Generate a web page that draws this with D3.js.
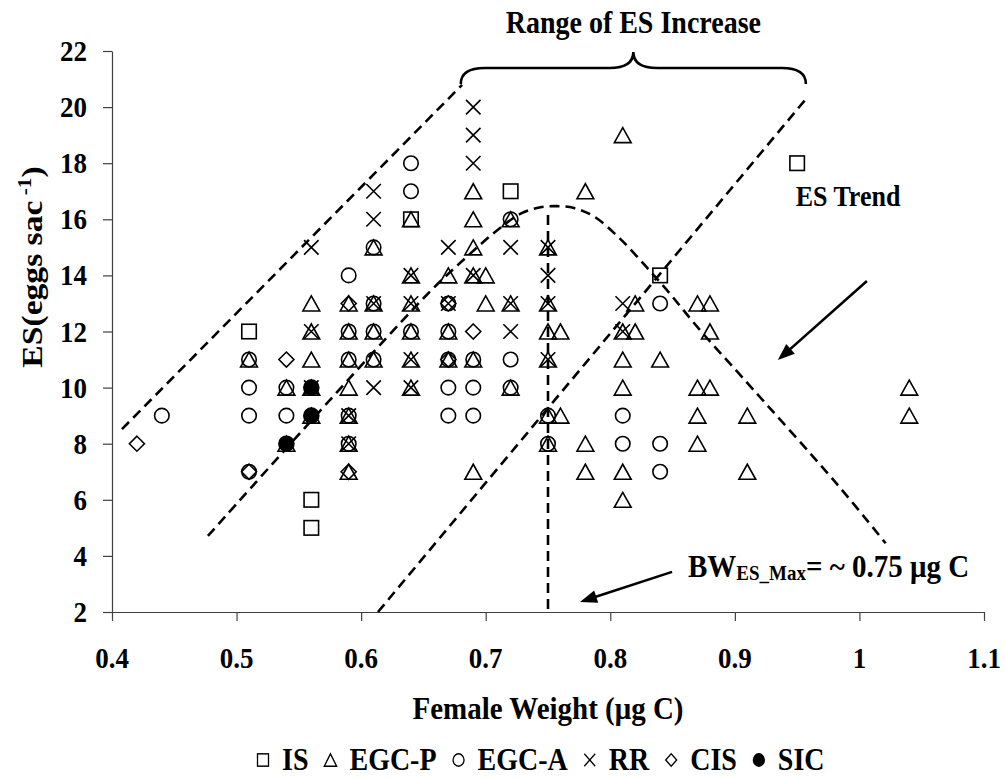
<!DOCTYPE html>
<html><head><meta charset="utf-8">
<script src="https://cdn.jsdelivr.net/npm/d3@7"></script>
<style>
body{margin:0;background:#fff}
svg{display:block}
text{font-family:"Liberation Serif","Times New Roman",serif;font-weight:bold;fill:#000}
</style>
</head><body>
<svg id="chart" width="1005" height="780"></svg>
<script>
// ---------- data ----------
const xTickValues = [0.4,0.5,0.6,0.7,0.8,0.9,1.0,1.1];
const xTickLabels = ["0.4","0.5","0.6","0.7","0.8","0.9","1","1.1"];
const yTickValues = [2,4,6,8,10,12,14,16,18,20,22];
const seriesNames = ["IS","EGC-P","EGC-A","RR","CIS","SIC"];
const seriesShapes = ["square","triangle","circle","cross","diamond","dot"];

const dataIS = [[0.51,12],[0.56,6],[0.56,5],[0.64,16],[0.72,17],[0.84,14],[0.95,18]];
const dataEGCP = [
  [0.51,11],[0.54,10],[0.54,8],
  [0.56,13],[0.56,12],[0.56,11],[0.56,10],[0.56,9],
  [0.59,13],[0.59,12],[0.59,11],[0.59,10],[0.59,9],[0.59,8],[0.59,7],
  [0.61,15],[0.61,13],[0.61,12],[0.61,11],
  [0.64,16],[0.64,14],[0.64,13],[0.64,12],[0.64,11],[0.64,10],
  [0.67,14],[0.67,12],[0.67,11],
  [0.69,17],[0.69,16],[0.69,15],[0.69,14],[0.69,11],[0.69,7],
  [0.70,14],[0.70,13],
  [0.72,16],[0.72,13],[0.72,10],
  [0.75,15],[0.75,13],[0.75,12],[0.75,11],[0.75,9],[0.75,8],
  [0.76,12],[0.76,9],
  [0.78,17],[0.78,8],[0.78,7],
  [0.81,19],[0.81,12],[0.81,11],[0.81,10],[0.81,7],[0.81,6],
  [0.82,13],[0.82,12],[0.84,11],
  [0.87,13],[0.87,10],[0.87,9],[0.87,8],
  [0.88,13],[0.88,12],[0.88,10],
  [0.91,9],[0.91,7],[1.04,10],[1.04,9]
];
const dataEGCA = [
  [0.44,9],[0.51,11],[0.51,10],[0.51,9],[0.51,7],[0.54,10],[0.54,9],
  [0.59,14],[0.59,12],[0.59,11],[0.59,9],[0.59,8],
  [0.61,15],[0.61,13],[0.61,12],[0.61,11],
  [0.64,18],[0.64,17],[0.64,12],
  [0.67,13],[0.67,12],[0.67,11],[0.67,10],[0.67,9],
  [0.69,11],[0.69,10],[0.69,9],
  [0.72,16],[0.72,11],[0.72,10],
  [0.75,9],[0.75,8],[0.81,9],[0.81,8],[0.84,13],[0.84,8],[0.84,7]
];
const dataRR = [
  [0.56,15],[0.56,12],[0.56,10],[0.59,9],[0.59,8],
  [0.61,17],[0.61,16],[0.61,13],[0.61,10],
  [0.64,14],[0.64,13],[0.64,11],[0.64,10],
  [0.67,15],[0.67,13],
  [0.69,20],[0.69,19],[0.69,18],[0.69,14],
  [0.72,15],[0.72,13],[0.72,12],
  [0.75,15],[0.75,14],[0.75,13],[0.75,11],
  [0.81,13],[0.81,12]
];
const dataCIS = [[0.42,8],[0.51,7],[0.54,11],[0.59,13],[0.59,7],[0.67,13],[0.67,11],[0.69,12]];
const dataSIC = [[0.54,8],[0.56,10],[0.56,9]];

// annotation geometry (data units)
const rangeLeftLine  = [[0.408,8.52],[0.681,20.79]];
const rangeRightLine = [[0.6135,2],[0.9563,20.25]];
const bwMaxLine      = [[0.75,16.15],[0.75,2]];
const trendCurve = [[0.477,4.71],[0.651,13.23],[0.685,14.67],[0.709,15.6],[0.728,16.2],[0.744,16.43],
  [0.757,16.47],[0.771,16.4],[0.787,16.1],[0.808,15.3],[0.829,14.3],[0.845,13.5],[0.872,12.05],
  [0.9065,10.34],[0.982,6.56],[1.021,4.45]];
const trendArrow = [[1.006,13.8],[0.9345,10.98]];
const bwArrow    = [[0.8496,3.43],[0.7757,2.36]];
const braceSpan  = [0.68,0.957];

// ---------- drawing ----------
const svg = d3.select("#chart");
const SY = 1.12;
const x = d3.scaleLinear().domain([0.4,1.1]).range([112,984]);
const y = d3.scaleLinear().domain([2,22]).range([612,51]);

function label(px,py,size,anchor,str){
  return svg.append("text")
    .attr("transform",`translate(${px},${py}) scale(1,${SY})`)
    .attr("font-size",size).attr("text-anchor",anchor).text(str);
}

// axes
const axisColor = "#404040";
const gx = svg.append("g").attr("transform",`translate(0,${y(2)})`)
  .call(d3.axisBottom(x).tickValues(xTickValues).tickSize(9).tickSizeOuter(0).tickFormat(""));
const gy = svg.append("g").attr("transform",`translate(${x(0.4)},0)`)
  .call(d3.axisLeft(y).tickValues(yTickValues).tickSize(9).tickSizeOuter(0).tickFormat(""));
[gx,gy].forEach(g=>{
  g.selectAll("path,line").attr("stroke",axisColor).attr("stroke-width",1.2);
  g.selectAll("text").remove();
});
xTickValues.forEach((v,i)=>label(x(v),668,27,"middle",xTickLabels[i]));
yTickValues.forEach(v=>label(87,y(v)+10,27,"end",String(v)));

// axis titles
label(548,719,29,"middle","Female Weight (\u03BCg C)");
const yt = svg.append("text")
  .attr("transform",`translate(42,267) scale(1,${SY}) rotate(-90)`)
  .attr("font-size",30).attr("text-anchor","middle");
yt.append("tspan").text("ES(eggs sac");
yt.append("tspan").attr("font-size",19).attr("dy",-11).text(" -1");
yt.append("tspan").attr("dy",11).text(")");

// dashed annotation lines
const dash = "10,6";
const lineGen = d3.line().x(d=>x(d[0])).y(d=>y(d[1]));
[rangeLeftLine,rangeRightLine,bwMaxLine].forEach(l=>{
  svg.append("path").attr("d",lineGen(l)).attr("fill","none")
    .attr("stroke","#000").attr("stroke-width",2.6).attr("stroke-dasharray",dash);
});
svg.append("path").attr("d",d3.line().x(d=>x(d[0])).y(d=>y(d[1])).curve(d3.curveCatmullRom)(trendCurve))
  .attr("fill","none").attr("stroke","#000").attr("stroke-width",2.6).attr("stroke-dasharray",dash);

// brace
const bx0 = x(braceSpan[0]), bx1 = x(braceSpan[1]), bt = (bx0+bx1)/2;
const yEnd = 84, yMid = 68, yTip = 52;
svg.append("path")
  .attr("d",`M${bx0},${yEnd} Q${bx0},${yMid} ${bx0+24},${yMid} L${bt-24},${yMid} Q${bt},${yMid} ${bt},${yTip} Q${bt},${yMid} ${bt+24},${yMid} L${bx1-24},${yMid} Q${bx1},${yMid} ${bx1},${yEnd}`)
  .attr("fill","none").attr("stroke","#000").attr("stroke-width",2.6);
label(bt,33,28,"middle","Range of ES Increase");

// arrows
function arrow(pts){
  const x0=x(pts[0][0]), y0=y(pts[0][1]), x1=x(pts[1][0]), y1=y(pts[1][1]);
  const dx=x1-x0, dy=y1-y0, L=Math.hypot(dx,dy), ux=dx/L, uy=dy/L;
  const hl=17, hw=6.5;
  const bx=x1-ux*hl, by=y1-uy*hl;
  svg.append("line").attr("x1",x0).attr("y1",y0).attr("x2",bx+ux*2).attr("y2",by+uy*2)
    .attr("stroke","#000").attr("stroke-width",2.6);
  svg.append("path").attr("d",`M${x1},${y1} L${bx-uy*hw},${by+ux*hw} L${bx+uy*hw},${by-ux*hw} Z`).attr("fill","#000");
}
arrow(trendArrow);
arrow(bwArrow);
label(848,206,26,"middle","ES Trend");
const bw = svg.append("text").attr("transform",`translate(688,577) scale(1,${SY})`).attr("font-size",29);
bw.append("tspan").text("BW");
bw.append("tspan").attr("font-size",19).attr("dy",3).text("ES_Max");
bw.append("tspan").attr("dy",-3).text("= ~ 0.75 \u03BCg C");

// markers
function marker(g,shape,cx,cy,s){
  const h=s/2;
  if(shape==="square") g.append("rect").attr("x",cx-h).attr("y",cy-h).attr("width",s).attr("height",s);
  else if(shape==="triangle") g.append("path").attr("d",`M${cx},${cy-h} L${cx+h*1.12},${cy+h} L${cx-h*1.12},${cy+h} Z`);
  else if(shape==="circle") g.append("circle").attr("cx",cx).attr("cy",cy).attr("r",h);
  else if(shape==="cross") g.append("path").attr("d",`M${cx-h},${cy-h} L${cx+h},${cy+h} M${cx+h},${cy-h} L${cx-h},${cy+h}`);
  else if(shape==="diamond") g.append("path").attr("d",`M${cx},${cy-h} L${cx+h},${cy} L${cx},${cy+h} L${cx-h},${cy} Z`);
  else if(shape==="dot") g.append("circle").attr("cx",cx).attr("cy",cy).attr("r",h).attr("fill","#000");
}
const allSeries = [dataIS,dataEGCP,dataEGCA,dataRR,dataCIS,dataSIC];
const sizes = {square:14.5,triangle:15,circle:14.5,cross:14.5,diamond:15,dot:15};
allSeries.forEach((data,i)=>{
  const g = svg.append("g").attr("fill","none").attr("stroke","#000").attr("stroke-width",1.6);
  data.forEach(d=>marker(g,seriesShapes[i],x(d[0]),y(d[1]),sizes[seriesShapes[i]]));
});

// legend
let cursor = 255;
const legY = 770, symY = 760;
seriesNames.forEach((name,i)=>{
  const g = svg.append("g").attr("fill","none").attr("stroke","#000").attr("stroke-width",1.3)
    .attr("transform",`translate(${cursor+8},${symY}) scale(1,${SY}) translate(${-(cursor+8)},${-symY})`);
  marker(g,seriesShapes[i],cursor+8,symY,11);
  const t = label(cursor+27,legY,28,"start",name);
  cursor = cursor + 27 + t.node().getComputedTextLength() + 14;
});
</script>
</body></html>
